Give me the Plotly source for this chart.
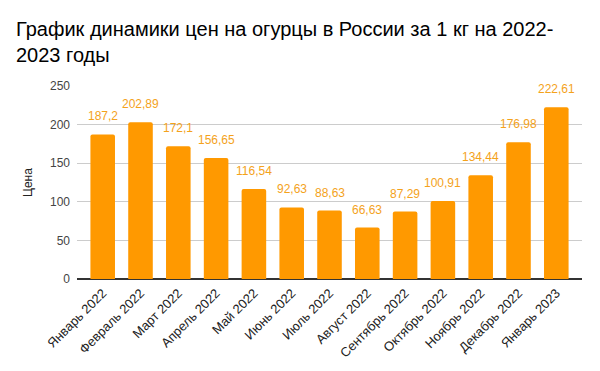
import plotly.graph_objects as go

months = ["Январь 2022", "Февраль 2022", "Март 2022", "Апрель 2022", "Май 2022",
          "Июнь 2022", "Июль 2022", "Август 2022", "Сентябрь 2022", "Октябрь 2022",
          "Ноябрь 2022", "Декабрь 2022", "Январь 2023"]
prices = [187.2, 202.89, 172.1, 156.65, 116.54, 92.63, 88.63, 66.63, 87.29,
          100.91, 134.44, 176.98, 222.61]
labels = [f"{v:g}".replace(".", ",") for v in prices]
y_ticks = [0, 50, 100, 150, 200, 250]

FONT = "Arial, Liberation Sans, sans-serif"
BAR = "#FF9900"
LABEL = "#F4A21B"

fig = go.Figure()
fig.add_trace(go.Bar(
    x=months, y=prices, width=0.65,
    marker=dict(color=BAR, line=dict(width=0), cornerradius=2),
    hoverinfo="skip",
))

for m, v, t in zip(months, prices, labels):
    fig.add_annotation(x=m, y=v, text=t, showarrow=False, yanchor="bottom",
                       yshift=9, font=dict(family=FONT, size=12, color=LABEL))

W, H = 600, 371
left, right, top, bottom = 69, 26, 77.5, 99.7
fig.update_layout(
    width=W, height=H,
    margin=dict(l=left, r=right, t=top, b=bottom, pad=0),
    paper_bgcolor="white", plot_bgcolor="white",
    showlegend=False,
    font=dict(family=FONT, size=12, color="#222222"),
    title=dict(text="График динамики цен на огурцы в России за 1 кг на 2022-<br>2023 годы",
               x=8 / W, xanchor="left", xref="container",
               y=1 - 28 / H, yanchor="top", yref="container",
               font=dict(family=FONT, size=20, color="#000000")),
    xaxis=dict(range=[-0.68, 12.68], tickangle=-45, showgrid=False, ticks="",
               ticklabelstandoff=3,
               tickfont=dict(family=FONT, size=13, color="#222222"),
               showline=False, zeroline=False),
    yaxis=dict(range=[0, 250], tickvals=y_ticks, showgrid=True, gridcolor="#CCCCCC",
               gridwidth=1, zeroline=True, zerolinecolor="#333333", zerolinewidth=1.5,
               ticks="", ticklabelstandoff=6,
               tickfont=dict(family=FONT, size=12, color="#444444"),
               title=dict(text="Цена", standoff=14,
                          font=dict(family=FONT, size=12, color="#222222"))),
)

fig.write_html("out.html")
